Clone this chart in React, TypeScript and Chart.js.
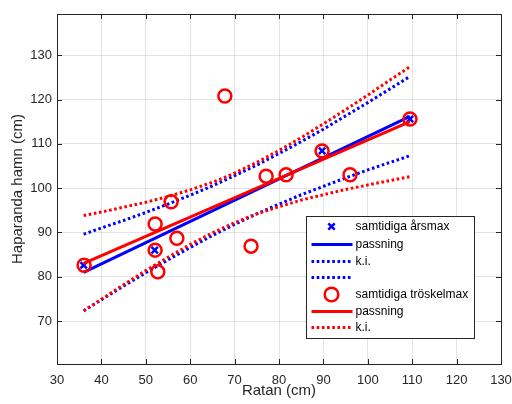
import React, { useEffect, useRef } from 'react';
import { Chart, registerables } from 'chart.js';

Chart.register(...registerables);

const FONT = 'Liberation Sans, Arial, Helvetica, sans-serif';

// Axis ticks
const xTicks = [30, 40, 50, 60, 70, 80, 90, 100, 110, 120, 130];
const yTicks = [70, 80, 90, 100, 110, 120, 130];
const xMin = 30;
const xMax = 130;
const yMin = 60.3;
const yMax = 139.3;

// samtidiga årsmax (blue x)
const arsmaxX = [36.0, 52.0, 89.7, 109.5];
const arsmaxY = [82.6, 86.0, 108.4, 115.6];

// samtidiga tröskelmax (red circles)
const troskX = [36.1, 52.1, 52.7, 52.1, 55.7, 57.0, 67.8, 73.7, 77.1, 81.6, 89.7, 96.0, 109.5];
const troskY = [82.6, 86.0, 81.1, 91.9, 96.9, 88.7, 120.8, 86.9, 102.7, 103.0, 108.4, 103.0, 115.6];

// passning (fit lines)
const fitX = [36.0, 109.5];
const blueFitY = [81.0, 116.2];
const redFitY = [83.0, 115.0];

// k.i. (confidence bands)
const ciX = [36, 40, 45, 50, 55, 60, 65, 70, 75, 80, 85, 90, 95, 100, 105, 109.5];
const blueUpper = [89.6, 91.0, 92.7, 94.5, 96.4, 98.4, 100.5, 102.8, 105.2, 107.8, 110.5, 113.3, 116.3, 119.3, 122.4, 125.2];
const blueLower = [72.3, 74.8, 77.9, 80.9, 83.8, 86.6, 89.3, 91.8, 94.2, 96.4, 98.5, 100.4, 102.3, 104.1, 105.8, 107.3];
const redUpper = [93.8, 94.6, 95.7, 96.8, 98.1, 99.6, 101.3, 103.4, 105.8, 108.5, 111.4, 114.5, 117.7, 121.0, 124.4, 127.4];
const redLower = [72.3, 74.9, 78.2, 81.4, 84.4, 87.3, 89.9, 92.2, 94.2, 95.8, 97.3, 98.5, 99.7, 100.7, 101.7, 102.6];

const legendLabels = ['samtidiga årsmax', 'passning', 'k.i.', '', 'samtidiga tröskelmax', 'passning', 'k.i.'];
const legendKinds = ['cross', 'solid', 'dot', 'dot', 'circle', 'solid', 'dot'];
const legendColors = ['#0000ff', '#0000ff', '#0000ff', '#0000ff', '#ff0000', '#ff0000', '#ff0000'];

const BLUE = '#0000ff';
const RED = '#ff0000';
const AXIS = '#262626';
const DOT = [2.6, 2.6];

const pts = (xs: number[], ys: number[]) => xs.map((x, i) => ({ x, y: ys[i] }));

const boxPlugin = {
  id: 'matlabBox',
  afterDatasetsDraw(chart: any) {
    const { ctx, chartArea: a, scales } = chart;
    ctx.save();
    ctx.strokeStyle = AXIS;
    ctx.lineWidth = 1;
    ctx.beginPath();
    const tl = 5;
    xTicks.forEach((v) => {
      const px = Math.round(scales.x.getPixelForValue(v)) + 0.5;
      ctx.moveTo(px, a.bottom);
      ctx.lineTo(px, a.bottom - tl);
      ctx.moveTo(px, a.top);
      ctx.lineTo(px, a.top + tl);
    });
    yTicks.forEach((v) => {
      const py = Math.round(scales.y.getPixelForValue(v)) + 0.5;
      ctx.moveTo(a.left, py);
      ctx.lineTo(a.left + tl, py);
      ctx.moveTo(a.right, py);
      ctx.lineTo(a.right - tl, py);
    });
    ctx.stroke();
    ctx.strokeRect(Math.round(a.left) + 0.5, Math.round(a.top) + 0.5, Math.round(a.right - a.left), Math.round(a.bottom - a.top));
    ctx.restore();
  },
  afterDraw(chart: any) {
    const { ctx, chartArea: a } = chart;
    ctx.save();
    const bw = 168;
    const bh = 122;
    const bx = Math.round(a.right - 195) + 0.5;
    const by = Math.round(a.top + 202) + 0.5;
    ctx.fillStyle = '#ffffff';
    ctx.fillRect(bx, by, bw, bh);
    ctx.strokeStyle = AXIS;
    ctx.lineWidth = 1;
    ctx.strokeRect(bx, by, bw, bh);
    const rowY = [10, 28, 45, 61, 78, 95, 111];
    const lx0 = bx + 5;
    const lx1 = bx + 46;
    const mx = bx + 25;
    ctx.font = `12px ${FONT}`;
    ctx.textBaseline = 'middle';
    ctx.textAlign = 'left';
    legendLabels.forEach((label, i) => {
      const y = by + rowY[i];
      const col = legendColors[i];
      const kind = legendKinds[i];
      ctx.strokeStyle = col;
      ctx.setLineDash([]);
      if (kind === 'cross') {
        ctx.lineWidth = 2.5;
        const r = 3.2;
        ctx.beginPath();
        ctx.moveTo(mx - r, y - r);
        ctx.lineTo(mx + r, y + r);
        ctx.moveTo(mx - r, y + r);
        ctx.lineTo(mx + r, y - r);
        ctx.stroke();
      } else if (kind === 'circle') {
        ctx.lineWidth = 2.5;
        ctx.beginPath();
        ctx.arc(mx, y, 6.8, 0, Math.PI * 2);
        ctx.stroke();
      } else {
        ctx.lineWidth = 3;
        if (kind === 'dot') ctx.setLineDash(DOT);
        ctx.beginPath();
        ctx.moveTo(lx0, y);
        ctx.lineTo(lx1, y);
        ctx.stroke();
      }
      ctx.setLineDash([]);
      ctx.fillStyle = '#000000';
      ctx.fillText(label, bx + 49, y + 0.5);
    });
    ctx.restore();
  },
};

export default function App() {
  const ref = useRef<HTMLCanvasElement | null>(null);

  useEffect(() => {
    if (!ref.current) return;
    Chart.defaults.font.family = FONT;
    const lineDs = (label: string, xs: number[], ys: number[], color: string, dotted: boolean) => ({
      label,
      type: 'line' as const,
      data: pts(xs, ys),
      borderColor: color,
      backgroundColor: color,
      borderWidth: 3,
      borderDash: dotted ? DOT : [],
      pointRadius: 0,
      showLine: true,
      fill: false,
      tension: 0,
    });
    const chart = new Chart(ref.current, {
      type: 'scatter',
      data: {
        datasets: [
          lineDs('k.i. övre röd', ciX, redUpper, RED, true),
          lineDs('k.i. undre röd', ciX, redLower, RED, true),
          lineDs('passning röd', fitX, redFitY, RED, false),
          {
            label: 'samtidiga tröskelmax',
            data: pts(troskX, troskY),
            pointStyle: 'circle',
            pointRadius: 6.5,
            pointBorderWidth: 2.5,
            borderColor: RED,
            backgroundColor: 'rgba(0,0,0,0)',
            showLine: false,
          },
          lineDs('k.i. övre blå', ciX, blueUpper, BLUE, true),
          lineDs('k.i. undre blå', ciX, blueLower, BLUE, true),
          lineDs('passning blå', fitX, blueFitY, BLUE, false),
          {
            label: 'samtidiga årsmax',
            data: pts(arsmaxX, arsmaxY),
            pointStyle: 'crossRot',
            pointRadius: 4.5,
            pointBorderWidth: 2.5,
            borderColor: BLUE,
            backgroundColor: BLUE,
            showLine: false,
          },
        ] as any,
      },
      options: {
        responsive: false,
        animation: false,
        events: [],
        layout: { padding: { top: 14, right: 11, left: 0, bottom: 0 } },
        plugins: {
          legend: { display: false },
          tooltip: { enabled: false },
        },
        scales: {
          x: {
            type: 'linear',
            min: xMin,
            max: xMax,
            afterBuildTicks: (s: any) => {
              s.ticks = xTicks.map((v) => ({ value: v }));
            },
            afterFit: (s: any) => {
              s.height = 40;
              s.paddingLeft = 0;
              s.paddingRight = 0;
            },
            grid: { color: 'rgba(0,0,0,0.11)', lineWidth: 1, drawTicks: false },
            border: { display: false },
            ticks: { color: AXIS, font: { size: 13, family: FONT }, padding: 9, maxRotation: 0, autoSkip: false },
            title: {
              display: true,
              text: 'Ratan (cm)',
              color: AXIS,
              font: { size: 15, family: FONT },
              padding: { top: 0, bottom: 4 },
            },
          },
          y: {
            type: 'linear',
            min: yMin,
            max: yMax,
            afterBuildTicks: (s: any) => {
              s.ticks = yTicks.map((v) => ({ value: v }));
            },
            afterFit: (s: any) => {
              s.width = 57;
              s.paddingTop = 0;
              s.paddingBottom = 0;
            },
            grid: { color: 'rgba(0,0,0,0.11)', lineWidth: 1, drawTicks: false },
            border: { display: false },
            ticks: { color: AXIS, font: { size: 13, family: FONT }, padding: 5, autoSkip: false },
            title: {
              display: true,
              text: 'Haparanda hamn (cm)',
              color: AXIS,
              font: { size: 15, family: FONT },
              padding: { top: 9, bottom: 0 },
            },
          },
        },
      },
      plugins: [boxPlugin],
    } as any);
    return () => chart.destroy();
  }, []);

  return (
    <div style={{ position: 'absolute', left: 0, top: 0, width: 512, height: 404, background: '#fff' }}>
      <canvas ref={ref} width={512} height={404} style={{ display: 'block' }} />
    </div>
  );
}
